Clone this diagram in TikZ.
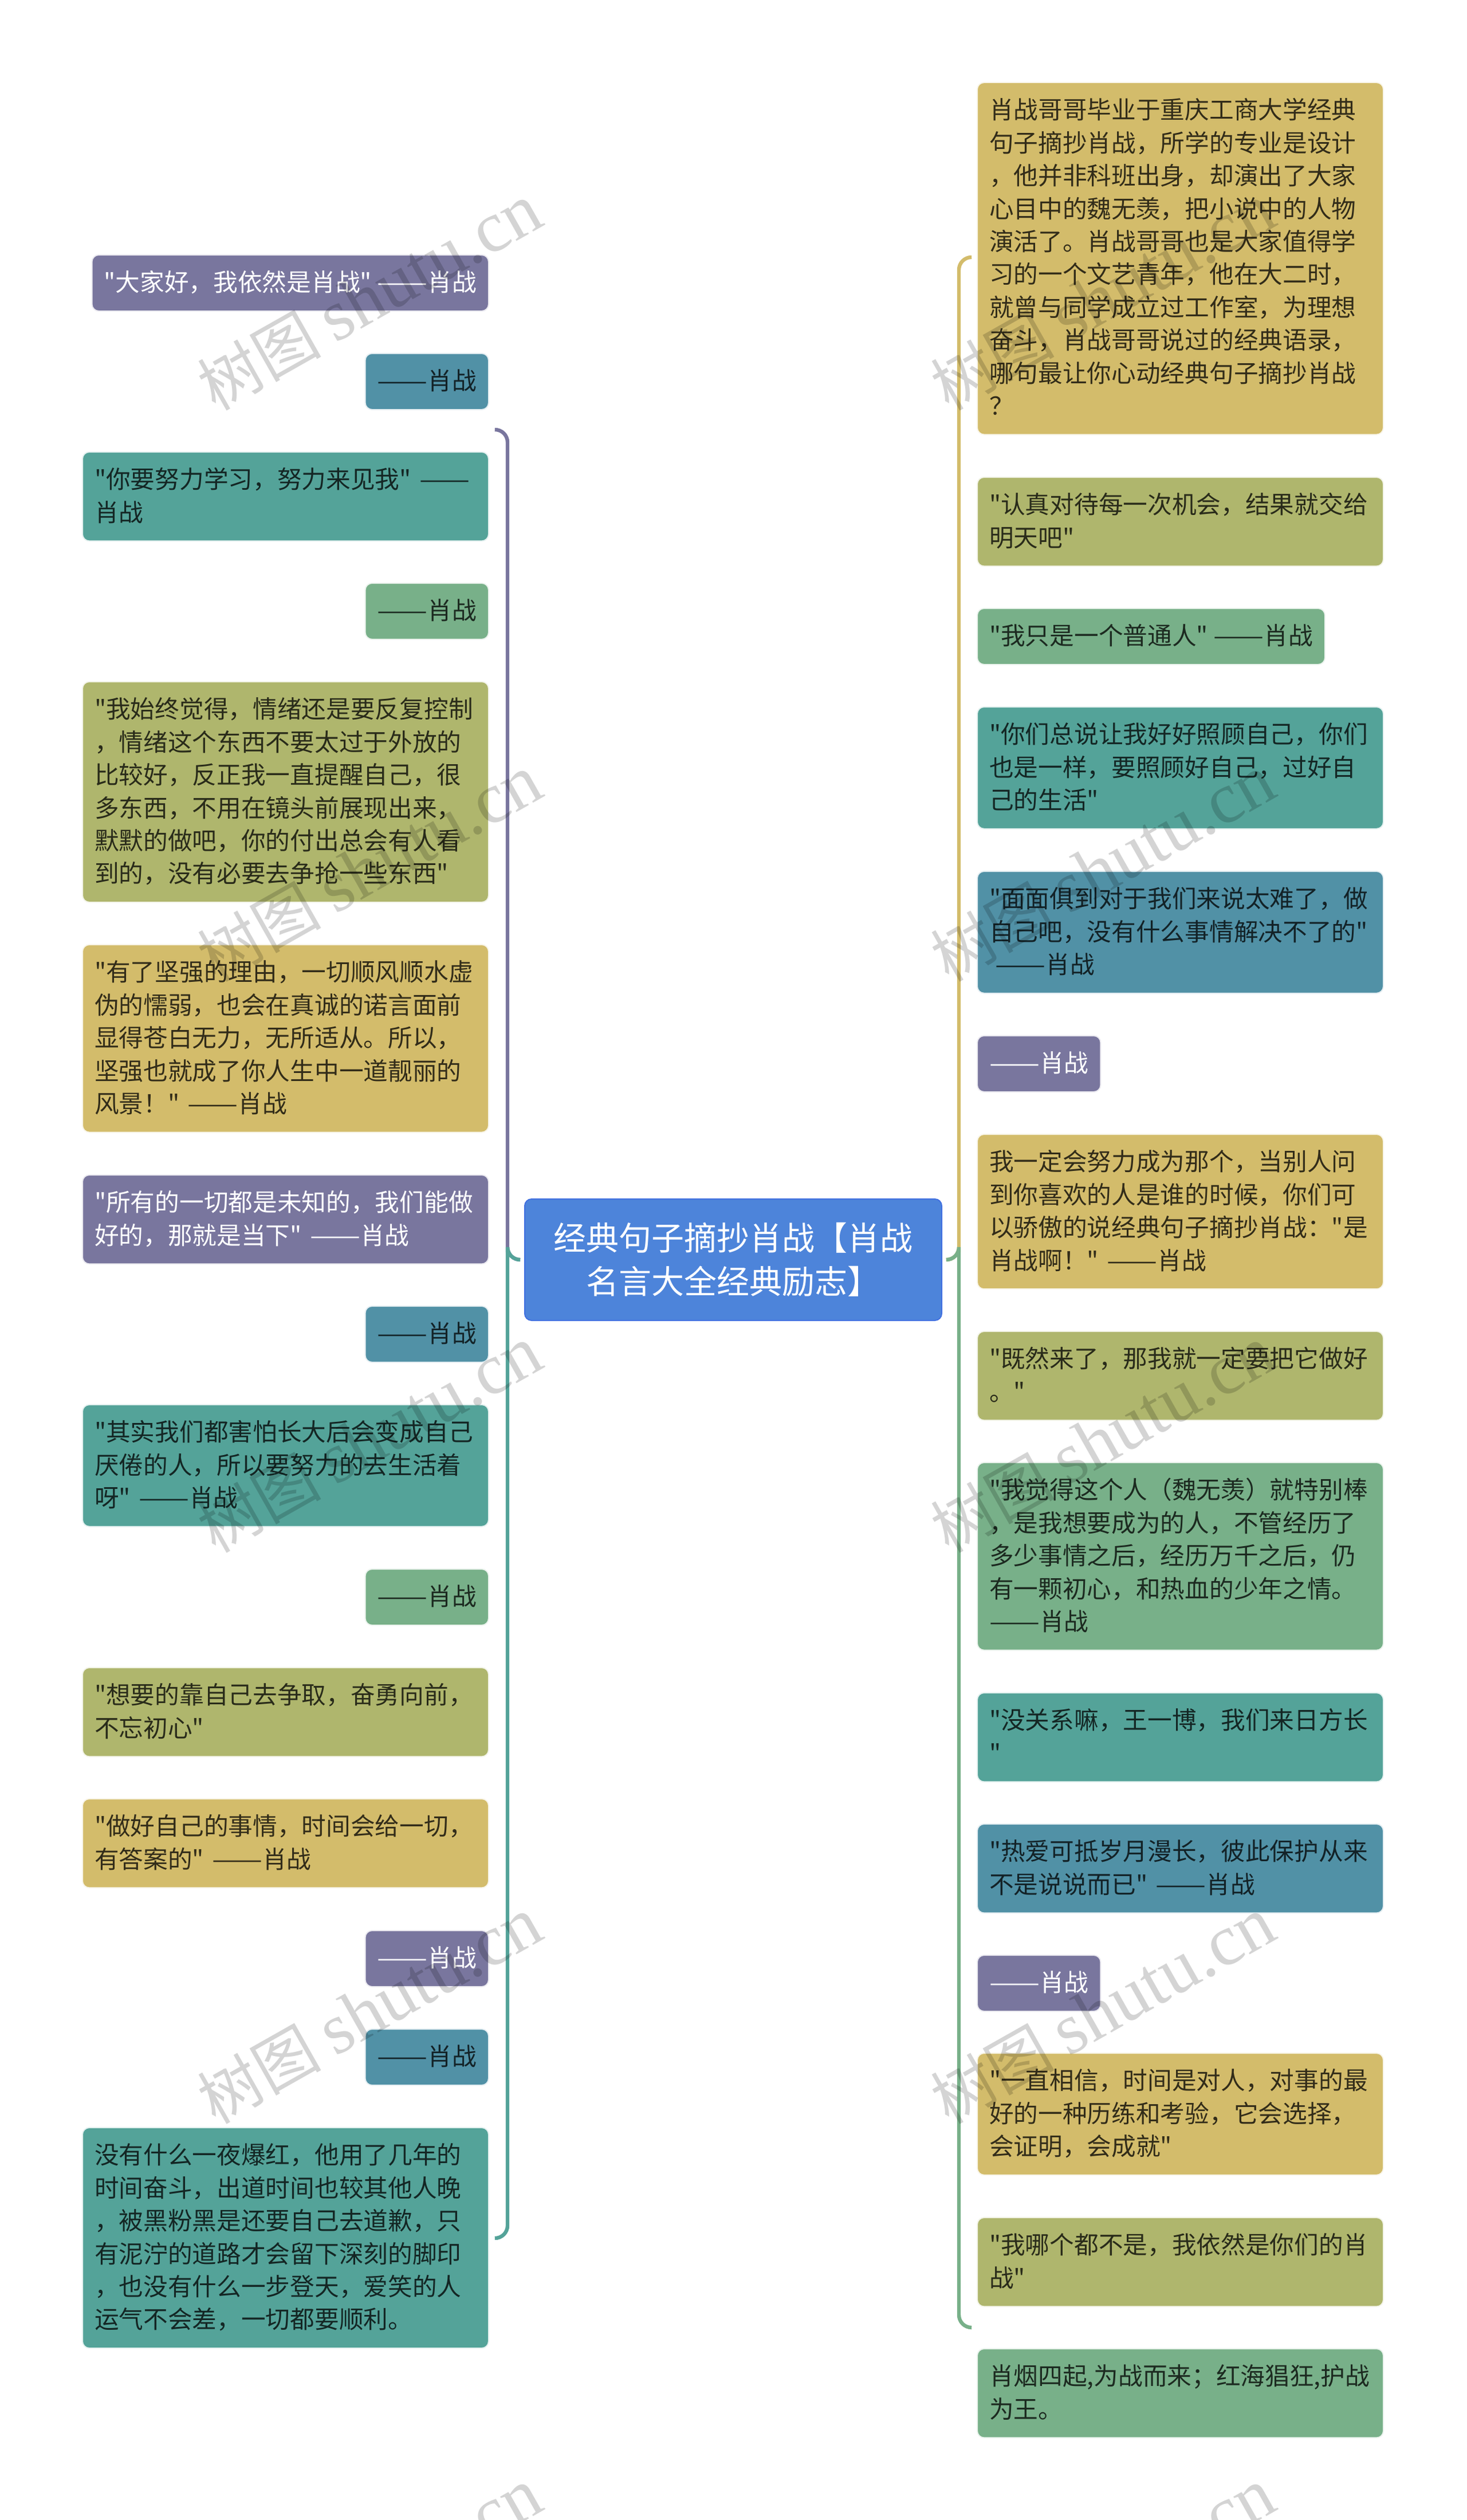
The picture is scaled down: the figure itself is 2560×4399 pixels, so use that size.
\documentclass[tikz,border=0pt]{standalone}
\usepackage{fontspec}
\newfontfamily\notefont{Noto Sans CJK SC}
\newfontfamily\latinmark{Liberation Serif}
\newcommand\dashes{\scalebox{1.23}[1]{——}}
\definecolor{tipgold}{HTML}{D3BC6B}
\definecolor{tipolive}{HTML}{AFB66D}
\definecolor{tipgreen}{HTML}{78B089}
\definecolor{tipteal}{HTML}{54A399}
\definecolor{tipblue}{HTML}{5191A6}
\definecolor{tippurple}{HTML}{79769E}
\definecolor{rootblue}{HTML}{4D84DA}
\tikzset{
	note/.style={draw=#1!15,line width=1pt,fill=#1,rounded corners=6pt,text=black,text opacity=.76,
		inner xsep=10.5pt,inner ysep=10.15pt,align=left,outer sep=0pt,
		font=\notefont\fontsize{21.35}{28.7}\selectfont,
		execute at begin node={\rule{0pt}{.76\baselineskip}},
		execute at end node={\rule[-.24\baselineskip]{0pt}{0pt}}},
	wide/.style={text width=333.5pt},
	light/.style={text=white,text opacity=1},
	tiered/.style={anchor=north east},
	tierer/.style={anchor=north west},
	branch/.style={draw=#1,line width=3.2pt,rounded corners=11pt},
	shutumark/.style={rotate=29.5,text=black,text opacity=.17,inner sep=0pt,font=\notefont\fontsize{54}{60}\selectfont}
}
\begin{document}
\begin{tikzpicture}[x=0.5pt,y=-0.5pt]
	\useasboundingbox (0,0) rectangle (2560,4399);
	% centre
	\node (root) [draw=rootblue!85!blue,line width=1pt,fill=rootblue,rounded corners=6pt,text=white,align=center,
		minimum width=364pt,minimum height=106pt,inner sep=0pt,outer sep=0pt,
		font=\notefont\fontsize{28.5}{38}\selectfont,at={(1280,2199)}]{经典句子摘抄肖战【肖战\\名言大全经典励志】};
	% left column
	\node (left1) [note=tippurple,light,tiered,at={(853,445)}]{"大家好，我依然是肖战" \dashes 肖战};
	\node (left2) [note=tipblue,tiered,at={(853,617)}]{\dashes 肖战};
	\node (left3) [note=tipteal,wide,tiered,at={(853,789)}]{"你要努力学习，努力来见我" \dashes\\肖战};
	\node (left4) [note=tipgreen,tiered,at={(853,1018)}]{\dashes 肖战};
	\node (left5) [note=tipolive,wide,tiered,at={(853,1190)}]{"我始终觉得，情绪还是要反复控制\\，情绪这个东西不要太过于外放的\\比较好，反正我一直提醒自己，很\\多东西，不用在镜头前展现出来，\\默默的做吧，你的付出总会有人看\\到的，没有必要去争抢一些东西"};
	\node (left6) [note=tipgold,wide,tiered,at={(853,1649)}]{"有了坚强的理由，一切顺风顺水虚\\伪的懦弱，也会在真诚的诺言面前\\显得苍白无力，无所适从。所以，\\坚强也就成了你人生中一道靓丽的\\风景！" \dashes 肖战};
	\node (left7) [note=tippurple,light,wide,tiered,at={(853,2051)}]{"所有的一切都是未知的，我们能做\\好的，那就是当下" \dashes 肖战};
	\node (left8) [note=tipblue,tiered,at={(853,2280)}]{\dashes 肖战};
	\node (left9) [note=tipteal,wide,tiered,at={(853,2452)}]{"其实我们都害怕长大后会变成自己\\厌倦的人，所以要努力的去生活着\\呀" \dashes 肖战};
	\node (left10) [note=tipgreen,tiered,at={(853,2739)}]{\dashes 肖战};
	\node (left11) [note=tipolive,wide,tiered,at={(853,2911)}]{"想要的靠自己去争取，奋勇向前，\\不忘初心"};
	\node (left12) [note=tipgold,wide,tiered,at={(853,3140)}]{"做好自己的事情，时间会给一切，\\有答案的" \dashes 肖战};
	\node (left13) [note=tippurple,light,tiered,at={(853,3370)}]{\dashes 肖战};
	\node (left14) [note=tipblue,tiered,at={(853,3542)}]{\dashes 肖战};
	\node (left15) [note=tipteal,wide,tiered,at={(853,3714)}]{没有什么一夜爆红，他用了几年的\\时间奋斗，出道时间也较其他人晚\\，被黑粉黑是还要自己去道歉，只\\有泥泞的道路才会留下深刻的脚印\\，也没有什么一步登天，爱笑的人\\运气不会差，一切都要顺利。};
	% right column
	\node (right1) [note=tipgold,wide,tierer,at={(1706,144)}]{肖战哥哥毕业于重庆工商大学经典\\句子摘抄肖战，所学的专业是设计\\，他并非科班出身，却演出了大家\\心目中的魏无羡，把小说中的人物\\演活了。肖战哥哥也是大家值得学\\习的一个文艺青年，他在大二时，\\就曾与同学成立过工作室，为理想\\奋斗，肖战哥哥说过的经典语录，\\哪句最让你心动经典句子摘抄肖战\\？};
	\node (right2) [note=tipolive,wide,tierer,at={(1706,833)}]{"认真对待每一次机会，结果就交给\\明天吧"};
	\node (right3) [note=tipgreen,tierer,at={(1706,1062)}]{"我只是一个普通人" \dashes 肖战};
	\node (right4) [note=tipteal,wide,tierer,at={(1706,1234)}]{"你们总说让我好好照顾自己，你们\\也是一样，要照顾好自己，过好自\\己的生活"};
	\node (right5) [note=tipblue,wide,tierer,at={(1706,1521)}]{"面面俱到对于我们来说太难了，做\\自己吧，没有什么事情解决不了的"\\\hspace*{.25em}\dashes 肖战};
	\node (right6) [note=tippurple,light,tierer,at={(1706,1808)}]{\dashes 肖战};
	\node (right7) [note=tipgold,wide,tierer,at={(1706,1980)}]{我一定会努力成为那个，当别人问\\到你喜欢的人是谁的时候，你们可\\以骄傲的说经典句子摘抄肖战："是\\肖战啊！" \dashes 肖战};
	\node (right8) [note=tipolive,wide,tierer,at={(1706,2324)}]{"既然来了，那我就一定要把它做好\\。"};
	\node (right9) [note=tipgreen,wide,tierer,at={(1706,2553)}]{"我觉得这个人（魏无羡）就特别棒\\，是我想要成为的人，不管经历了\\多少事情之后，经历万千之后，仍\\有一颗初心，和热血的少年之情。\\\dashes 肖战};
	\node (right10) [note=tipteal,wide,tierer,at={(1706,2955)}]{"没关系嘛，王一博，我们来日方长\\"};
	\node (right11) [note=tipblue,wide,tierer,at={(1706,3184)}]{"热爱可抵岁月漫长，彼此保护从来\\不是说说而已" \dashes 肖战};
	\node (right12) [note=tippurple,light,tierer,at={(1706,3413)}]{\dashes 肖战};
	\node (right13) [note=tipgold,wide,tierer,at={(1706,3584)}]{"一直相信，时间是对人，对事的最\\好的一种历练和考验，它会选择，\\会证明，会成就"};
	\node (right14) [note=tipolive,wide,tierer,at={(1706,3871)}]{"我哪个都不是，我依然是你们的肖\\战"};
	\node (right15) [note=tipgreen,wide,tierer,at={(1706,4100)}]{肖烟四起,为战而来；红海猖狂,护战\\为王。};
	% brackets
	\coordinate (leftjoin) at ([xshift=-5.5pt]root.west);
	\coordinate (rightjoin) at ([xshift=5.5pt]root.east);
	\coordinate (lefttop) at (865,750);
	\coordinate (leftbot) at (865,3907);
	\coordinate (righttop) at (1695,449);
	\coordinate (rightbot) at (1695,4063);
	\coordinate (leftspine) at (886,2199);
	\coordinate (rightspine) at (1674,2199);
	\draw[branch=tippurple] (lefttop) -| (leftspine) |- (leftjoin);
	\draw[branch=tipteal] (leftbot) -| (leftspine) |- (leftjoin);
	\draw[branch=tipgold] (righttop) -| (rightspine) |- (rightjoin);
	\draw[branch=tipgreen] (rightbot) -| (rightspine) |- (rightjoin);
	% watermark
	\foreach \col in {0,1}
	\foreach \row in {0,1,2,3,4}{
		\node (mark\col\row) [shutumark,at={(645+1280*\col,519+997*\row)}]{树图 {\latinmark\fontsize{63}{70}\selectfont shutu.cn}};
	}
\end{tikzpicture}
\end{document}
